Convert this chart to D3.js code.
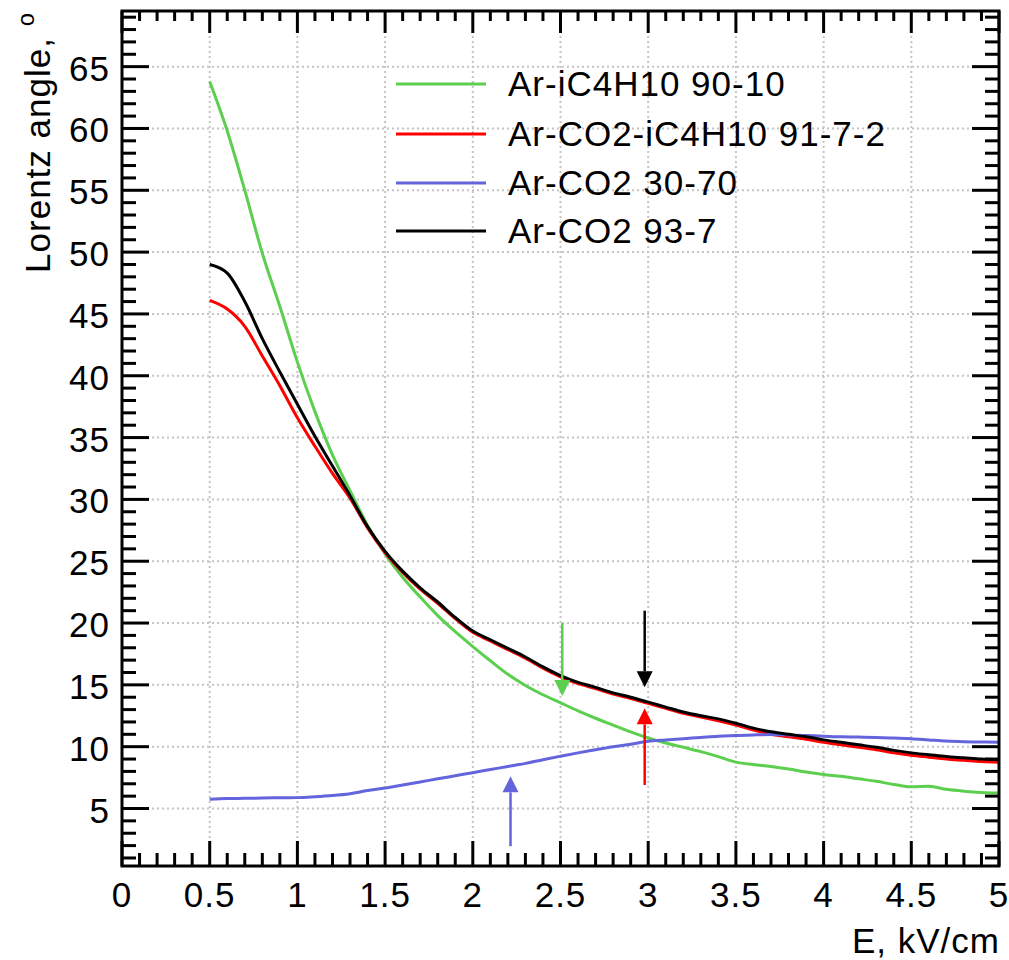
<!DOCTYPE html>
<html>
<head>
<meta charset="utf-8">
<script src="https://cdn.jsdelivr.net/npm/d3@7"></script>
<style>
  body { margin: 0; background: #fff; }
  svg text { font-family: "Liberation Sans", Arial, Helvetica, sans-serif; fill: #000; }
</style>
</head>
<body>
<svg width="1009" height="960"></svg>
<script>
// field values, kV/cm
const fieldE = [0.5, 0.6, 0.7, 0.8, 0.9, 1.0, 1.1, 1.2, 1.3, 1.4, 1.5, 1.6, 1.7, 1.8, 1.9,
  2.0, 2.1, 2.2, 2.3, 2.4, 2.5, 2.6, 2.7, 2.8, 2.9, 3.0, 3.1, 3.2, 3.3, 3.4, 3.5, 3.6, 3.7,
  3.8, 3.9, 4.0, 4.1, 4.2, 4.3, 4.4, 4.5, 4.6, 4.7, 4.8, 4.9, 5.0];

// Lorentz angle, degrees
const arIso = [63.8, 59.8, 55.0, 49.9, 45.6, 41.1, 37.1, 33.6, 30.7, 27.9, 25.6, 23.7, 22.1,
  20.6, 19.3, 18.1, 16.95, 15.85, 14.95, 14.2, 13.55, 12.9, 12.3, 11.75, 11.2, 10.7, 10.3, 9.95,
  9.6, 9.2, 8.75, 8.55, 8.4, 8.2, 7.95, 7.75, 7.6, 7.4, 7.2, 6.95, 6.75, 6.8, 6.55, 6.4, 6.3, 6.25];
const arCo2Iso = [46.1, 45.4, 44.0, 41.6, 39.2, 36.6, 34.3, 32.1, 30.1, 27.7, 25.7, 24.1, 22.75,
  21.6, 20.35, 19.25, 18.55, 17.85, 17.15, 16.35, 15.65, 15.1, 14.7, 14.25, 13.9, 13.5, 13.1, 12.7,
  12.4, 12.1, 11.75, 11.35, 11.0, 10.8, 10.6, 10.35, 10.15, 9.95, 9.75, 9.5, 9.3, 9.15, 9.0,
  8.9, 8.8, 8.75];
const arCo2_3070 = [5.75, 5.8, 5.82, 5.85, 5.87, 5.88, 5.95, 6.05, 6.2, 6.45, 6.65, 6.9, 7.15,
  7.4, 7.65, 7.9, 8.15, 8.4, 8.65, 8.95, 9.23, 9.5, 9.75, 10.0, 10.2, 10.44, 10.55, 10.65,
  10.75, 10.85, 10.9, 10.95, 10.98, 10.95, 10.9, 10.85, 10.8, 10.78, 10.75, 10.7, 10.65,
  10.55, 10.45, 10.4, 10.38, 10.35];
const arCo2_937 = [49.0, 48.3, 46.0, 43.0, 40.3, 37.7, 35.1, 32.7, 30.3, 27.8, 25.8, 24.2, 22.85,
  21.7, 20.45, 19.35, 18.65, 17.95, 17.25, 16.45, 15.75, 15.2, 14.8, 14.35, 14.0, 13.6, 13.2, 12.8,
  12.5, 12.25, 11.9, 11.5, 11.2, 11.0, 10.8, 10.55, 10.35, 10.15, 9.95, 9.7, 9.5, 9.35, 9.2,
  9.1, 9.0, 8.95];

const seriesNames = ['Ar-iC4H10 90-10', 'Ar-CO2-iC4H10 91-7-2', 'Ar-CO2 30-70', 'Ar-CO2 93-7'];
const seriesColors = ['#5ccf4f', '#ff0000', '#6464dc', '#000000'];
const seriesValues = [arIso, arCo2Iso, arCo2_3070, arCo2_937];

// working points marked with arrows: E, start angle, tip angle
const arrowE = [2.51, 2.98, 2.98, 2.215];
const arrowFrom = [20.0, 21.0, 6.9, 1.95];
const arrowTo = [14.1, 14.8, 13.1, 7.6];
const arrowColors = ['#5ccf4f', '#000000', '#ff0000', '#6464dc'];

const xTicks = d3.range(0, 5.01, 0.5);
const yTicks = d3.range(5, 66, 5);

const svg = d3.select('svg');
const pLeft = 122, pRight = 999, pTop = 11, pBottom = 866;

const x = d3.scaleLinear().domain([0, 5]).range([pLeft, pRight]);
const y = d3.scaleLinear().domain([0.35, 69.5]).range([pBottom, pTop]);

// dotted grid
const grid = svg.append('g')
  .attr('stroke', '#c4c4c4')
  .attr('stroke-width', 2)
  .attr('stroke-dasharray', '2,3');
grid.selectAll('.gx').data(xTicks.slice(1, -1)).join('line')
  .attr('x1', d => x(d)).attr('x2', d => x(d))
  .attr('y1', pTop).attr('y2', pBottom);
grid.selectAll('.gy').data(yTicks).join('line')
  .attr('x1', pLeft).attr('x2', pRight)
  .attr('y1', d => y(d)).attr('y2', d => y(d));

// curves
const line = d3.line()
  .x((d, i) => x(fieldE[i]))
  .y(d => y(d))
  .curve(d3.curveMonotoneX);

svg.append('g').selectAll('path')
  .data(seriesValues)
  .join('path')
  .attr('fill', 'none')
  .attr('stroke', (d, i) => seriesColors[i])
  .attr('stroke-width', 3)
  .attr('d', line);

// arrows
const arrows = svg.append('g');
arrowE.forEach((e, i) => {
  const x0 = x(e), y0 = y(arrowFrom[i]), y1 = y(arrowTo[i]);
  const dir = y1 > y0 ? 1 : -1;
  const headLen = 16, headW = 8;
  arrows.append('line')
    .attr('x1', x0).attr('x2', x0)
    .attr('y1', y0).attr('y2', y1 - dir * headLen)
    .attr('stroke', arrowColors[i])
    .attr('stroke-width', 2.5);
  arrows.append('path')
    .attr('d', `M${x0},${y1} L${x0 - headW},${y1 - dir * headLen} L${x0 + headW},${y1 - dir * headLen} Z`)
    .attr('fill', arrowColors[i]);
});

// axes: ticks on all four sides, pointing inward
const xMinor = d3.range(0, 5.001, 0.1);
const yMinor = d3.range(1, 69.5, 1);
const ticks = svg.append('g').attr('stroke', '#000').attr('stroke-width', 3);
const isMajorX = d => Math.abs(d * 2 - Math.round(d * 2)) < 1e-6;

ticks.selectAll('.tb').data(xMinor).join('line')
  .attr('x1', d => x(d)).attr('x2', d => x(d))
  .attr('y1', pBottom).attr('y2', d => pBottom - (isMajorX(d) ? 25 : 13));
ticks.selectAll('.tt').data(xMinor).join('line')
  .attr('x1', d => x(d)).attr('x2', d => x(d))
  .attr('y1', pTop).attr('y2', d => pTop + (isMajorX(d) ? 22 : 10));
ticks.selectAll('.tl').data(yMinor).join('line')
  .attr('y1', d => y(d)).attr('y2', d => y(d))
  .attr('x1', pLeft).attr('x2', d => pLeft + (d % 5 === 0 ? 27 : 14));
ticks.selectAll('.tr').data(yMinor).join('line')
  .attr('y1', d => y(d)).attr('y2', d => y(d))
  .attr('x1', pRight).attr('x2', d => pRight - (d % 5 === 0 ? 27 : 14));

// frame
svg.append('rect')
  .attr('x', pLeft).attr('y', pTop)
  .attr('width', pRight - pLeft).attr('height', pBottom - pTop)
  .attr('fill', 'none')
  .attr('stroke', '#000')
  .attr('stroke-width', 3);

// tick labels
svg.append('g').selectAll('text').data(xTicks).join('text')
  .attr('x', d => x(d))
  .attr('y', 907)
  .attr('text-anchor', 'middle')
  .attr('font-size', 35)
  .attr('letter-spacing', 1)
  .text(d => d3.format('~g')(d));

svg.append('g').selectAll('text').data(yTicks).join('text')
  .attr('x', 110)
  .attr('y', d => y(d) + 14)
  .attr('text-anchor', 'end')
  .attr('font-size', 35)
  .attr('letter-spacing', 1)
  .text(d => d);

// axis titles
svg.append('text')
  .attr('x', 1000).attr('y', 953)
  .attr('text-anchor', 'end')
  .attr('font-size', 35)
  .attr('letter-spacing', 1)
  .text('E, kV/cm');

const yTitle = svg.append('text')
  .attr('transform', 'translate(50,12) rotate(-90)')
  .attr('text-anchor', 'end')
  .attr('font-size', 35)
  .attr('letter-spacing', 1);
yTitle.append('tspan').text('Lorentz angle, ');
yTitle.append('tspan').attr('font-size', 24).attr('dy', -16).text('o');

// legend
const legend = svg.append('g');
const legendY = [84, 134, 183, 231];
seriesNames.forEach((name, i) => {
  legend.append('line')
    .attr('x1', 396).attr('x2', 486)
    .attr('y1', legendY[i]).attr('y2', legendY[i])
    .attr('stroke', seriesColors[i])
    .attr('stroke-width', 3);
  legend.append('text')
    .attr('x', 508).attr('y', legendY[i] + 12)
    .attr('font-size', 35)
    .attr('letter-spacing', 1)
    .text(name);
});
</script>
</body>
</html>
